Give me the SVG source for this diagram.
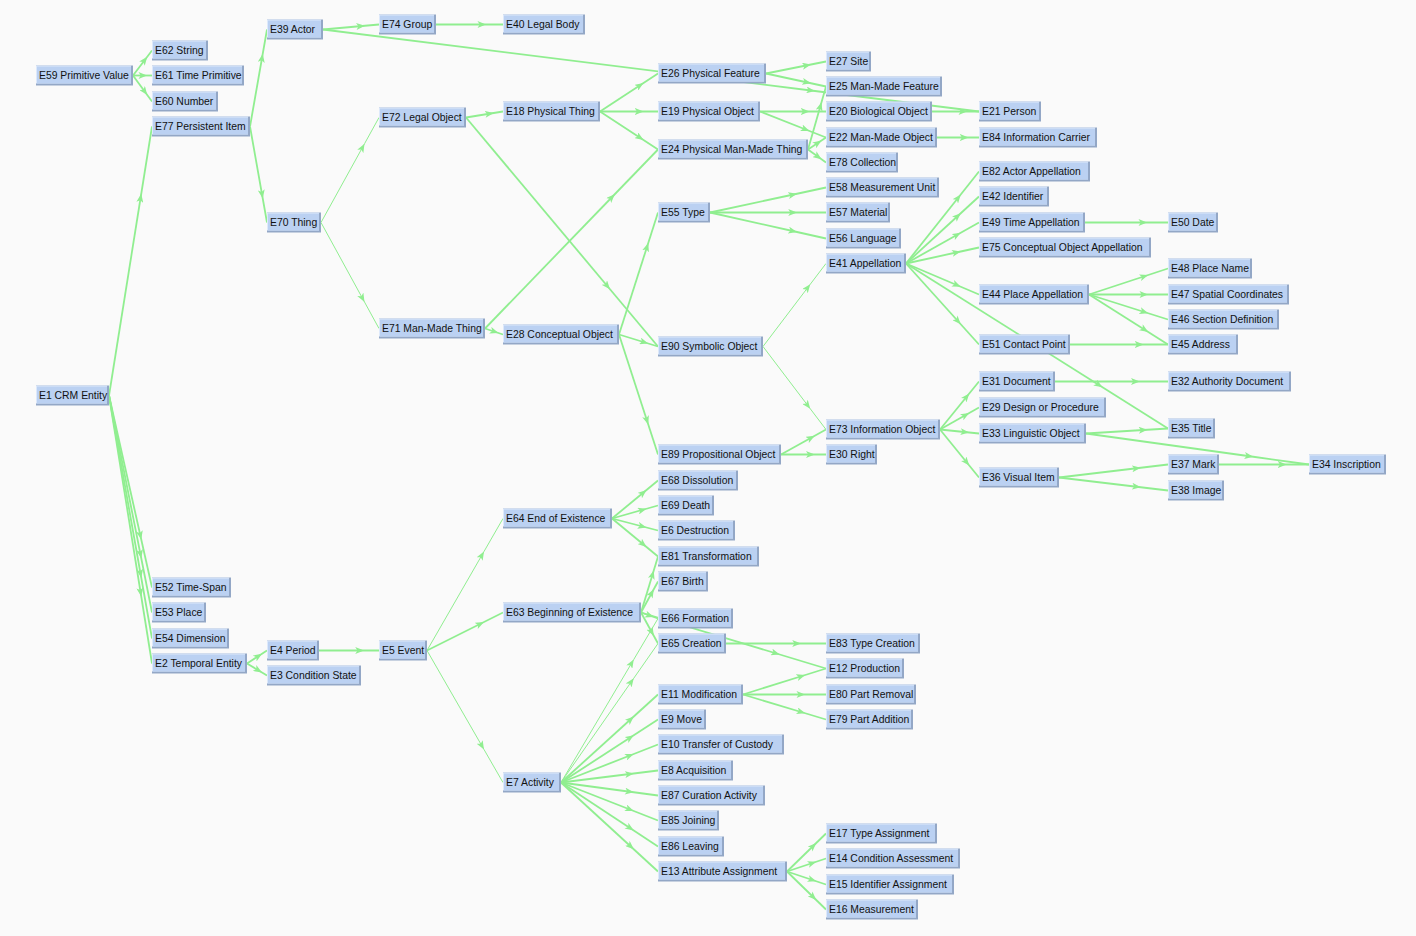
<svg xmlns="http://www.w3.org/2000/svg" width="1416" height="936" viewBox="0 0 1416 936">
<style>
.e{fill:none;stroke:#90ee90;stroke-width:1.8;marker-mid:url(#a)}
.t{stroke-width:1}
.d{fill:#93a7c6}
.l{fill:#dde9fb}
.f{fill:#bbd1f2}
text{font-family:"Liberation Sans",Arial,sans-serif;font-size:10.4px;fill:#111}
</style>
<defs>
<marker id="a" viewBox="0 0 10 8" refX="10" refY="4" markerWidth="9" markerHeight="7" markerUnits="userSpaceOnUse" orient="auto"><path d="M0,0 L10,4 L0,8 L2.5,4 z" fill="#90ee90"/></marker>
</defs>
<rect width="1416" height="936" fill="#fafafa"/>
<g transform="translate(0,0.5)">
<g id="connectors">
<path class="e" d="M133,75 L147.25,56.25 L152,50"/>
<path class="e" d="M133,75 L147.25,75 L152,75"/>
<path class="e" d="M133,75 L147.25,94.5 L152,101"/>
<path class="e" d="M109,395 L141.25,193.25 L152,126"/>
<path class="e" d="M109,395 L141.25,539 L152,587"/>
<path class="e" d="M109,395 L141.25,557.75 L152,612"/>
<path class="e" d="M109,395 L141.25,577.25 L152,638"/>
<path class="e" d="M109,395 L141.25,596 L152,663"/>
<path class="e" d="M250,126 L262.75,53.25 L267,29"/>
<path class="e" d="M250,126 L262.75,198 L267,222"/>
<path class="e" d="M323,29 L365,25.25 L379,24"/>
<path class="e" d="M323,29 L815,90.5 L979,111"/>
<path class="e" d="M436,24 L486.25,24 L503,24"/>
<path class="e t" d="M321,222 L364.5,143.25 L379,117"/>
<path class="e t" d="M321,222 L364.5,301.5 L379,328"/>
<path class="e" d="M466,117 L493.75,112.5 L503,111"/>
<path class="e" d="M466,117 L610,288.75 L658,346"/>
<path class="e" d="M485,328 L614.75,193.75 L658,149"/>
<path class="e" d="M485,328 L498.5,332.5 L503,334"/>
<path class="e" d="M600,111 L643.5,82.5 L658,73"/>
<path class="e" d="M600,111 L643.5,111 L658,111"/>
<path class="e" d="M600,111 L643.5,139.5 L658,149"/>
<path class="e" d="M766,73 L811,64 L826,61"/>
<path class="e" d="M766,73 L811,82.75 L826,86"/>
<path class="e" d="M760,111 L809.5,111 L826,111"/>
<path class="e" d="M760,111 L809.5,130.5 L826,137"/>
<path class="e" d="M808,149 L821.5,101.75 L826,86"/>
<path class="e" d="M808,149 L821.5,140 L826,137"/>
<path class="e" d="M808,149 L821.5,158.75 L826,162"/>
<path class="e" d="M932,111 L967.25,111 L979,111"/>
<path class="e" d="M937,137 L968.5,137 L979,137"/>
<path class="e" d="M619,334 L648.25,242.5 L658,212"/>
<path class="e" d="M619,334 L648.25,343 L658,346"/>
<path class="e" d="M619,334 L648.25,424 L658,454"/>
<path class="e" d="M710,212 L797,193.25 L826,187"/>
<path class="e" d="M710,212 L797,212 L826,212"/>
<path class="e" d="M710,212 L797,231.5 L826,238"/>
<path class="e t" d="M763,346 L810.25,283.75 L826,263"/>
<path class="e t" d="M763,346 L810.25,408.25 L826,429"/>
<path class="e" d="M781,454 L814.75,435.25 L826,429"/>
<path class="e" d="M781,454 L814.75,454 L826,454"/>
<path class="e" d="M906,263 L960.75,194 L979,171"/>
<path class="e" d="M906,263 L960.75,212.75 L979,196"/>
<path class="e" d="M906,263 L960.75,232.25 L979,222"/>
<path class="e" d="M906,263 L960.75,251 L979,247"/>
<path class="e" d="M906,263 L960.75,286.25 L979,294"/>
<path class="e" d="M906,263 L960.75,323.75 L979,344"/>
<path class="e" d="M906,263 L1102.5,386.75 L1168,428"/>
<path class="e" d="M1085,222 L1147.25,222 L1168,222"/>
<path class="e" d="M1089,294 L1148.25,274.5 L1168,268"/>
<path class="e" d="M1089,294 L1148.25,294 L1168,294"/>
<path class="e" d="M1089,294 L1148.25,312.75 L1168,319"/>
<path class="e" d="M1089,294 L1148.25,331.5 L1168,344"/>
<path class="e" d="M1070,344 L1143.5,344 L1168,344"/>
<path class="e" d="M940,429 L969.25,393 L979,381"/>
<path class="e" d="M940,429 L969.25,412.5 L979,407"/>
<path class="e" d="M940,429 L969.25,432 L979,433"/>
<path class="e" d="M940,429 L969.25,465 L979,477"/>
<path class="e" d="M1055,381 L1139.75,381 L1168,381"/>
<path class="e" d="M1086,433 L1147.5,429.25 L1168,428"/>
<path class="e" d="M1086,433 L1253.25,456.25 L1309,464"/>
<path class="e" d="M1059,477 L1140.75,467.25 L1168,464"/>
<path class="e" d="M1059,477 L1140.75,486.75 L1168,490"/>
<path class="e" d="M1219,464 L1286.5,464 L1309,464"/>
<path class="e" d="M247,663 L262,653.25 L267,650"/>
<path class="e" d="M247,663 L262,672 L267,675"/>
<path class="e" d="M319,650 L364,650 L379,650"/>
<path class="e t" d="M427,650 L484,551 L503,518"/>
<path class="e" d="M427,650 L484,621.5 L503,612"/>
<path class="e t" d="M427,650 L484,749 L503,782"/>
<path class="e" d="M612,518 L646.5,489.5 L658,480"/>
<path class="e" d="M612,518 L646.5,508.25 L658,505"/>
<path class="e" d="M612,518 L646.5,527 L658,530"/>
<path class="e" d="M612,518 L646.5,546.5 L658,556"/>
<path class="e" d="M641,612 L653.75,570 L658,556"/>
<path class="e" d="M641,612 L653.75,588.75 L658,581"/>
<path class="e" d="M641,612 L653.75,616.5 L658,618"/>
<path class="e" d="M641,612 L653.75,635.25 L658,643"/>
<path class="e" d="M641,612 L779.75,654 L826,668"/>
<path class="e" d="M726,643 L801,643 L826,643"/>
<path class="e t" d="M561,782 L633.75,659 L658,618"/>
<path class="e t" d="M561,782 L633.75,677.75 L658,643"/>
<path class="e" d="M561,782 L633.75,716 L658,694"/>
<path class="e" d="M561,782 L633.75,734.75 L658,719"/>
<path class="e" d="M561,782 L633.75,753.5 L658,744"/>
<path class="e" d="M561,782 L633.75,773 L658,770"/>
<path class="e" d="M561,782 L633.75,791.75 L658,795"/>
<path class="e" d="M561,782 L633.75,810.5 L658,820"/>
<path class="e" d="M561,782 L633.75,830 L658,846"/>
<path class="e" d="M561,782 L633.75,848.75 L658,871"/>
<path class="e" d="M743,694 L805.25,674.5 L826,668"/>
<path class="e" d="M743,694 L805.25,694 L826,694"/>
<path class="e" d="M743,694 L805.25,712.75 L826,719"/>
<path class="e" d="M787,871 L816.25,842.5 L826,833"/>
<path class="e" d="M787,871 L816.25,861.25 L826,858"/>
<path class="e" d="M787,871 L816.25,880.75 L826,884"/>
<path class="e" d="M787,871 L816.25,899.5 L826,909"/>
</g>
<g id="E59"><rect class="d" x="36" y="65" width="97" height="20"/><rect class="l" x="36" y="65" width="95" height="18"/><rect class="f" x="37" y="66" width="94" height="17"/><text x="39" y="78">E59 Primitive Value</text></g>
<g id="E1"><rect class="d" x="36" y="385" width="73" height="20"/><rect class="l" x="36" y="385" width="71" height="18"/><rect class="f" x="37" y="386" width="70" height="17"/><text x="39" y="398">E1 CRM Entity</text></g>
<g id="E62"><rect class="d" x="152" y="40" width="56" height="20"/><rect class="l" x="152" y="40" width="54" height="18"/><rect class="f" x="153" y="41" width="53" height="17"/><text x="155" y="53">E62 String</text></g>
<g id="E61"><rect class="d" x="152" y="65" width="92" height="20"/><rect class="l" x="152" y="65" width="90" height="18"/><rect class="f" x="153" y="66" width="89" height="17"/><text x="155" y="78">E61 Time Primitive</text></g>
<g id="E60"><rect class="d" x="152" y="91" width="66" height="20"/><rect class="l" x="152" y="91" width="64" height="18"/><rect class="f" x="153" y="92" width="63" height="17"/><text x="155" y="104">E60 Number</text></g>
<g id="E77"><rect class="d" x="152" y="116" width="98" height="20"/><rect class="l" x="152" y="116" width="96" height="18"/><rect class="f" x="153" y="117" width="95" height="17"/><text x="155" y="129">E77 Persistent Item</text></g>
<g id="E52"><rect class="d" x="152" y="577" width="79" height="20"/><rect class="l" x="152" y="577" width="77" height="18"/><rect class="f" x="153" y="578" width="76" height="17"/><text x="155" y="590">E52 Time-Span</text></g>
<g id="E53"><rect class="d" x="152" y="602" width="54" height="20"/><rect class="l" x="152" y="602" width="52" height="18"/><rect class="f" x="153" y="603" width="51" height="17"/><text x="155" y="615">E53 Place</text></g>
<g id="E54"><rect class="d" x="152" y="628" width="77" height="20"/><rect class="l" x="152" y="628" width="75" height="18"/><rect class="f" x="153" y="629" width="74" height="17"/><text x="155" y="641">E54 Dimension</text></g>
<g id="E2"><rect class="d" x="152" y="653" width="95" height="20"/><rect class="l" x="152" y="653" width="93" height="18"/><rect class="f" x="153" y="654" width="92" height="17"/><text x="155" y="666">E2 Temporal Entity</text></g>
<g id="E39"><rect class="d" x="267" y="19" width="56" height="20"/><rect class="l" x="267" y="19" width="54" height="18"/><rect class="f" x="268" y="20" width="53" height="17"/><text x="270" y="32">E39 Actor</text></g>
<g id="E70"><rect class="d" x="267" y="212" width="54" height="20"/><rect class="l" x="267" y="212" width="52" height="18"/><rect class="f" x="268" y="213" width="51" height="17"/><text x="270" y="225">E70 Thing</text></g>
<g id="E4"><rect class="d" x="267" y="640" width="52" height="20"/><rect class="l" x="267" y="640" width="50" height="18"/><rect class="f" x="268" y="641" width="49" height="17"/><text x="270" y="653">E4 Period</text></g>
<g id="E3"><rect class="d" x="267" y="665" width="94" height="20"/><rect class="l" x="267" y="665" width="92" height="18"/><rect class="f" x="268" y="666" width="91" height="17"/><text x="270" y="678">E3 Condition State</text></g>
<g id="E74"><rect class="d" x="379" y="14" width="57" height="20"/><rect class="l" x="379" y="14" width="55" height="18"/><rect class="f" x="380" y="15" width="54" height="17"/><text x="382" y="27">E74 Group</text></g>
<g id="E72"><rect class="d" x="379" y="107" width="87" height="20"/><rect class="l" x="379" y="107" width="85" height="18"/><rect class="f" x="380" y="108" width="84" height="17"/><text x="382" y="120">E72 Legal Object</text></g>
<g id="E71"><rect class="d" x="379" y="318" width="106" height="20"/><rect class="l" x="379" y="318" width="104" height="18"/><rect class="f" x="380" y="319" width="103" height="17"/><text x="382" y="331">E71 Man-Made Thing</text></g>
<g id="E5"><rect class="d" x="379" y="640" width="48" height="20"/><rect class="l" x="379" y="640" width="46" height="18"/><rect class="f" x="380" y="641" width="45" height="17"/><text x="382" y="653">E5 Event</text></g>
<g id="E40"><rect class="d" x="503" y="14" width="82" height="20"/><rect class="l" x="503" y="14" width="80" height="18"/><rect class="f" x="504" y="15" width="79" height="17"/><text x="506" y="27">E40 Legal Body</text></g>
<g id="E18"><rect class="d" x="503" y="101" width="97" height="20"/><rect class="l" x="503" y="101" width="95" height="18"/><rect class="f" x="504" y="102" width="94" height="17"/><text x="506" y="114">E18 Physical Thing</text></g>
<g id="E28"><rect class="d" x="503" y="324" width="116" height="20"/><rect class="l" x="503" y="324" width="114" height="18"/><rect class="f" x="504" y="325" width="113" height="17"/><text x="506" y="337">E28 Conceptual Object</text></g>
<g id="E64"><rect class="d" x="503" y="508" width="109" height="20"/><rect class="l" x="503" y="508" width="107" height="18"/><rect class="f" x="504" y="509" width="106" height="17"/><text x="506" y="521">E64 End of Existence</text></g>
<g id="E63"><rect class="d" x="503" y="602" width="138" height="20"/><rect class="l" x="503" y="602" width="136" height="18"/><rect class="f" x="504" y="603" width="135" height="17"/><text x="506" y="615">E63 Beginning of Existence</text></g>
<g id="E7"><rect class="d" x="503" y="772" width="58" height="20"/><rect class="l" x="503" y="772" width="56" height="18"/><rect class="f" x="504" y="773" width="55" height="17"/><text x="506" y="785">E7 Activity</text></g>
<g id="E26"><rect class="d" x="658" y="63" width="108" height="20"/><rect class="l" x="658" y="63" width="106" height="18"/><rect class="f" x="659" y="64" width="105" height="17"/><text x="661" y="76">E26 Physical Feature</text></g>
<g id="E19"><rect class="d" x="658" y="101" width="102" height="20"/><rect class="l" x="658" y="101" width="100" height="18"/><rect class="f" x="659" y="102" width="99" height="17"/><text x="661" y="114">E19 Physical Object</text></g>
<g id="E24"><rect class="d" x="658" y="139" width="150" height="20"/><rect class="l" x="658" y="139" width="148" height="18"/><rect class="f" x="659" y="140" width="147" height="17"/><text x="661" y="152">E24 Physical Man-Made Thing</text></g>
<g id="E55"><rect class="d" x="658" y="202" width="52" height="20"/><rect class="l" x="658" y="202" width="50" height="18"/><rect class="f" x="659" y="203" width="49" height="17"/><text x="661" y="215">E55 Type</text></g>
<g id="E90"><rect class="d" x="658" y="336" width="105" height="20"/><rect class="l" x="658" y="336" width="103" height="18"/><rect class="f" x="659" y="337" width="102" height="17"/><text x="661" y="349">E90 Symbolic Object</text></g>
<g id="E89"><rect class="d" x="658" y="444" width="123" height="20"/><rect class="l" x="658" y="444" width="121" height="18"/><rect class="f" x="659" y="445" width="120" height="17"/><text x="661" y="457">E89 Propositional Object</text></g>
<g id="E68"><rect class="d" x="658" y="470" width="80" height="20"/><rect class="l" x="658" y="470" width="78" height="18"/><rect class="f" x="659" y="471" width="77" height="17"/><text x="661" y="483">E68 Dissolution</text></g>
<g id="E69"><rect class="d" x="658" y="495" width="56" height="20"/><rect class="l" x="658" y="495" width="54" height="18"/><rect class="f" x="659" y="496" width="53" height="17"/><text x="661" y="508">E69 Death</text></g>
<g id="E6"><rect class="d" x="658" y="520" width="77" height="20"/><rect class="l" x="658" y="520" width="75" height="18"/><rect class="f" x="659" y="521" width="74" height="17"/><text x="661" y="533">E6 Destruction</text></g>
<g id="E81"><rect class="d" x="658" y="546" width="101" height="20"/><rect class="l" x="658" y="546" width="99" height="18"/><rect class="f" x="659" y="547" width="98" height="17"/><text x="661" y="559">E81 Transformation</text></g>
<g id="E67"><rect class="d" x="658" y="571" width="50" height="20"/><rect class="l" x="658" y="571" width="48" height="18"/><rect class="f" x="659" y="572" width="47" height="17"/><text x="661" y="584">E67 Birth</text></g>
<g id="E66"><rect class="d" x="658" y="608" width="75" height="20"/><rect class="l" x="658" y="608" width="73" height="18"/><rect class="f" x="659" y="609" width="72" height="17"/><text x="661" y="621">E66 Formation</text></g>
<g id="E65"><rect class="d" x="658" y="633" width="68" height="20"/><rect class="l" x="658" y="633" width="66" height="18"/><rect class="f" x="659" y="634" width="65" height="17"/><text x="661" y="646">E65 Creation</text></g>
<g id="E11"><rect class="d" x="658" y="684" width="85" height="20"/><rect class="l" x="658" y="684" width="83" height="18"/><rect class="f" x="659" y="685" width="82" height="17"/><text x="661" y="697">E11 Modification</text></g>
<g id="E9"><rect class="d" x="658" y="709" width="48" height="20"/><rect class="l" x="658" y="709" width="46" height="18"/><rect class="f" x="659" y="710" width="45" height="17"/><text x="661" y="722">E9 Move</text></g>
<g id="E10"><rect class="d" x="658" y="734" width="126" height="20"/><rect class="l" x="658" y="734" width="124" height="18"/><rect class="f" x="659" y="735" width="123" height="17"/><text x="661" y="747">E10 Transfer of Custody</text></g>
<g id="E8"><rect class="d" x="658" y="760" width="75" height="20"/><rect class="l" x="658" y="760" width="73" height="18"/><rect class="f" x="659" y="761" width="72" height="17"/><text x="661" y="773">E8 Acquisition</text></g>
<g id="E87"><rect class="d" x="658" y="785" width="107" height="20"/><rect class="l" x="658" y="785" width="105" height="18"/><rect class="f" x="659" y="786" width="104" height="17"/><text x="661" y="798">E87 Curation Activity</text></g>
<g id="E85"><rect class="d" x="658" y="810" width="61" height="20"/><rect class="l" x="658" y="810" width="59" height="18"/><rect class="f" x="659" y="811" width="58" height="17"/><text x="661" y="823">E85 Joining</text></g>
<g id="E86"><rect class="d" x="658" y="836" width="66" height="20"/><rect class="l" x="658" y="836" width="64" height="18"/><rect class="f" x="659" y="837" width="63" height="17"/><text x="661" y="849">E86 Leaving</text></g>
<g id="E13"><rect class="d" x="658" y="861" width="129" height="20"/><rect class="l" x="658" y="861" width="127" height="18"/><rect class="f" x="659" y="862" width="126" height="17"/><text x="661" y="874">E13 Attribute Assignment</text></g>
<g id="E27"><rect class="d" x="826" y="51" width="45" height="20"/><rect class="l" x="826" y="51" width="43" height="18"/><rect class="f" x="827" y="52" width="42" height="17"/><text x="829" y="64">E27 Site</text></g>
<g id="E25"><rect class="d" x="826" y="76" width="116" height="20"/><rect class="l" x="826" y="76" width="114" height="18"/><rect class="f" x="827" y="77" width="113" height="17"/><text x="829" y="89">E25 Man-Made Feature</text></g>
<g id="E20"><rect class="d" x="826" y="101" width="106" height="20"/><rect class="l" x="826" y="101" width="104" height="18"/><rect class="f" x="827" y="102" width="103" height="17"/><text x="829" y="114">E20 Biological Object</text></g>
<g id="E22"><rect class="d" x="826" y="127" width="111" height="20"/><rect class="l" x="826" y="127" width="109" height="18"/><rect class="f" x="827" y="128" width="108" height="17"/><text x="829" y="140">E22 Man-Made Object</text></g>
<g id="E78"><rect class="d" x="826" y="152" width="72" height="20"/><rect class="l" x="826" y="152" width="70" height="18"/><rect class="f" x="827" y="153" width="69" height="17"/><text x="829" y="165">E78 Collection</text></g>
<g id="E58"><rect class="d" x="826" y="177" width="113" height="20"/><rect class="l" x="826" y="177" width="111" height="18"/><rect class="f" x="827" y="178" width="110" height="17"/><text x="829" y="190">E58 Measurement Unit</text></g>
<g id="E57"><rect class="d" x="826" y="202" width="64" height="20"/><rect class="l" x="826" y="202" width="62" height="18"/><rect class="f" x="827" y="203" width="61" height="17"/><text x="829" y="215">E57 Material</text></g>
<g id="E56"><rect class="d" x="826" y="228" width="75" height="20"/><rect class="l" x="826" y="228" width="73" height="18"/><rect class="f" x="827" y="229" width="72" height="17"/><text x="829" y="241">E56 Language</text></g>
<g id="E41"><rect class="d" x="826" y="253" width="80" height="20"/><rect class="l" x="826" y="253" width="78" height="18"/><rect class="f" x="827" y="254" width="77" height="17"/><text x="829" y="266">E41 Appellation</text></g>
<g id="E73"><rect class="d" x="826" y="419" width="114" height="20"/><rect class="l" x="826" y="419" width="112" height="18"/><rect class="f" x="827" y="420" width="111" height="17"/><text x="829" y="432">E73 Information Object</text></g>
<g id="E30"><rect class="d" x="826" y="444" width="51" height="20"/><rect class="l" x="826" y="444" width="49" height="18"/><rect class="f" x="827" y="445" width="48" height="17"/><text x="829" y="457">E30 Right</text></g>
<g id="E83"><rect class="d" x="826" y="633" width="94" height="20"/><rect class="l" x="826" y="633" width="92" height="18"/><rect class="f" x="827" y="634" width="91" height="17"/><text x="829" y="646">E83 Type Creation</text></g>
<g id="E12"><rect class="d" x="826" y="658" width="78" height="20"/><rect class="l" x="826" y="658" width="76" height="18"/><rect class="f" x="827" y="659" width="75" height="17"/><text x="829" y="671">E12 Production</text></g>
<g id="E80"><rect class="d" x="826" y="684" width="90" height="20"/><rect class="l" x="826" y="684" width="88" height="18"/><rect class="f" x="827" y="685" width="87" height="17"/><text x="829" y="697">E80 Part Removal</text></g>
<g id="E79"><rect class="d" x="826" y="709" width="87" height="20"/><rect class="l" x="826" y="709" width="85" height="18"/><rect class="f" x="827" y="710" width="84" height="17"/><text x="829" y="722">E79 Part Addition</text></g>
<g id="E17"><rect class="d" x="826" y="823" width="111" height="20"/><rect class="l" x="826" y="823" width="109" height="18"/><rect class="f" x="827" y="824" width="108" height="17"/><text x="829" y="836">E17 Type Assignment</text></g>
<g id="E14"><rect class="d" x="826" y="848" width="134" height="20"/><rect class="l" x="826" y="848" width="132" height="18"/><rect class="f" x="827" y="849" width="131" height="17"/><text x="829" y="861">E14 Condition Assessment</text></g>
<g id="E15"><rect class="d" x="826" y="874" width="128" height="20"/><rect class="l" x="826" y="874" width="126" height="18"/><rect class="f" x="827" y="875" width="125" height="17"/><text x="829" y="887">E15 Identifier Assignment</text></g>
<g id="E16"><rect class="d" x="826" y="899" width="92" height="20"/><rect class="l" x="826" y="899" width="90" height="18"/><rect class="f" x="827" y="900" width="89" height="17"/><text x="829" y="912">E16 Measurement</text></g>
<g id="E21"><rect class="d" x="979" y="101" width="62" height="20"/><rect class="l" x="979" y="101" width="60" height="18"/><rect class="f" x="980" y="102" width="59" height="17"/><text x="982" y="114">E21 Person</text></g>
<g id="E84"><rect class="d" x="979" y="127" width="118" height="20"/><rect class="l" x="979" y="127" width="116" height="18"/><rect class="f" x="980" y="128" width="115" height="17"/><text x="982" y="140">E84 Information Carrier</text></g>
<g id="E82"><rect class="d" x="979" y="161" width="111" height="20"/><rect class="l" x="979" y="161" width="109" height="18"/><rect class="f" x="980" y="162" width="108" height="17"/><text x="982" y="174">E82 Actor Appellation</text></g>
<g id="E42"><rect class="d" x="979" y="186" width="70" height="20"/><rect class="l" x="979" y="186" width="68" height="18"/><rect class="f" x="980" y="187" width="67" height="17"/><text x="982" y="199">E42 Identifier</text></g>
<g id="E49"><rect class="d" x="979" y="212" width="106" height="20"/><rect class="l" x="979" y="212" width="104" height="18"/><rect class="f" x="980" y="213" width="103" height="17"/><text x="982" y="225">E49 Time Appellation</text></g>
<g id="E75"><rect class="d" x="979" y="237" width="172" height="20"/><rect class="l" x="979" y="237" width="170" height="18"/><rect class="f" x="980" y="238" width="169" height="17"/><text x="982" y="250">E75 Conceptual Object Appellation</text></g>
<g id="E44"><rect class="d" x="979" y="284" width="110" height="20"/><rect class="l" x="979" y="284" width="108" height="18"/><rect class="f" x="980" y="285" width="107" height="17"/><text x="982" y="297">E44 Place Appellation</text></g>
<g id="E51"><rect class="d" x="979" y="334" width="91" height="20"/><rect class="l" x="979" y="334" width="89" height="18"/><rect class="f" x="980" y="335" width="88" height="17"/><text x="982" y="347">E51 Contact Point</text></g>
<g id="E31"><rect class="d" x="979" y="371" width="76" height="20"/><rect class="l" x="979" y="371" width="74" height="18"/><rect class="f" x="980" y="372" width="73" height="17"/><text x="982" y="384">E31 Document</text></g>
<g id="E29"><rect class="d" x="979" y="397" width="127" height="20"/><rect class="l" x="979" y="397" width="125" height="18"/><rect class="f" x="980" y="398" width="124" height="17"/><text x="982" y="410">E29 Design or Procedure</text></g>
<g id="E33"><rect class="d" x="979" y="423" width="107" height="20"/><rect class="l" x="979" y="423" width="105" height="18"/><rect class="f" x="980" y="424" width="104" height="17"/><text x="982" y="436">E33 Linguistic Object</text></g>
<g id="E36"><rect class="d" x="979" y="467" width="80" height="20"/><rect class="l" x="979" y="467" width="78" height="18"/><rect class="f" x="980" y="468" width="77" height="17"/><text x="982" y="480">E36 Visual Item</text></g>
<g id="E50"><rect class="d" x="1168" y="212" width="50" height="20"/><rect class="l" x="1168" y="212" width="48" height="18"/><rect class="f" x="1169" y="213" width="47" height="17"/><text x="1171" y="225">E50 Date</text></g>
<g id="E48"><rect class="d" x="1168" y="258" width="84" height="20"/><rect class="l" x="1168" y="258" width="82" height="18"/><rect class="f" x="1169" y="259" width="81" height="17"/><text x="1171" y="271">E48 Place Name</text></g>
<g id="E47"><rect class="d" x="1168" y="284" width="121" height="20"/><rect class="l" x="1168" y="284" width="119" height="18"/><rect class="f" x="1169" y="285" width="118" height="17"/><text x="1171" y="297">E47 Spatial Coordinates</text></g>
<g id="E46"><rect class="d" x="1168" y="309" width="111" height="20"/><rect class="l" x="1168" y="309" width="109" height="18"/><rect class="f" x="1169" y="310" width="108" height="17"/><text x="1171" y="322">E46 Section Definition</text></g>
<g id="E45"><rect class="d" x="1168" y="334" width="70" height="20"/><rect class="l" x="1168" y="334" width="68" height="18"/><rect class="f" x="1169" y="335" width="67" height="17"/><text x="1171" y="347">E45 Address</text></g>
<g id="E32"><rect class="d" x="1168" y="371" width="123" height="20"/><rect class="l" x="1168" y="371" width="121" height="18"/><rect class="f" x="1169" y="372" width="120" height="17"/><text x="1171" y="384">E32 Authority Document</text></g>
<g id="E35"><rect class="d" x="1168" y="418" width="47" height="20"/><rect class="l" x="1168" y="418" width="45" height="18"/><rect class="f" x="1169" y="419" width="44" height="17"/><text x="1171" y="431">E35 Title</text></g>
<g id="E37"><rect class="d" x="1168" y="454" width="51" height="20"/><rect class="l" x="1168" y="454" width="49" height="18"/><rect class="f" x="1169" y="455" width="48" height="17"/><text x="1171" y="467">E37 Mark</text></g>
<g id="E38"><rect class="d" x="1168" y="480" width="56" height="20"/><rect class="l" x="1168" y="480" width="54" height="18"/><rect class="f" x="1169" y="481" width="53" height="17"/><text x="1171" y="493">E38 Image</text></g>
<g id="E34"><rect class="d" x="1309" y="454" width="77" height="20"/><rect class="l" x="1309" y="454" width="75" height="18"/><rect class="f" x="1310" y="455" width="74" height="17"/><text x="1312" y="467">E34 Inscription</text></g>
</g>
</svg>
